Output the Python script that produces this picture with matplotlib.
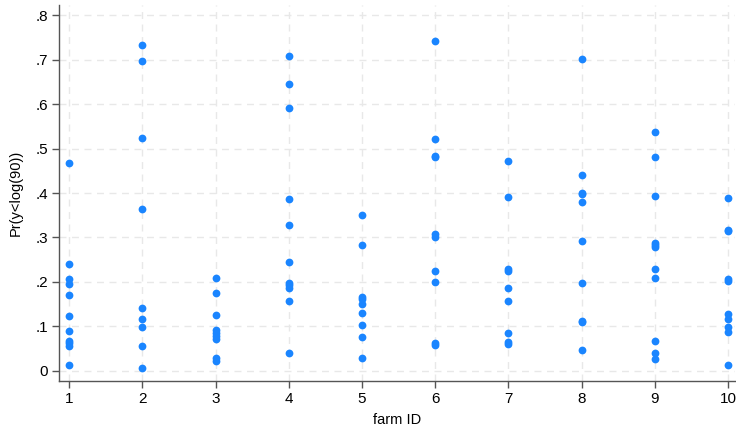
import numpy as np
import matplotlib
matplotlib.use("Agg")
import matplotlib.pyplot as plt

plt.rcParams["font.family"] = ["Liberation Sans", "DejaVu Sans"]

# predicted Pr(y < log(90)) per farm
farm_1 = [0.468, 0.240, 0.206, 0.195, 0.170, 0.123, 0.089, 0.068, 0.062, 0.056, 0.014]
farm_2 = [0.733, 0.697, 0.524, 0.363, 0.141, 0.116, 0.099, 0.056, 0.006]
farm_3 = [0.208, 0.175, 0.126, 0.092, 0.085, 0.078, 0.072, 0.028, 0.022]
farm_4 = [0.709, 0.645, 0.592, 0.386, 0.327, 0.244, 0.197, 0.192, 0.187, 0.158, 0.040]
farm_5 = [0.351, 0.282, 0.167, 0.161, 0.151, 0.129, 0.103, 0.077, 0.029]
farm_6 = [0.742, 0.521, 0.484, 0.480, 0.307, 0.302, 0.224, 0.200, 0.063, 0.059]
farm_7 = [0.471, 0.392, 0.230, 0.225, 0.187, 0.158, 0.084, 0.065, 0.060]
farm_8 = [0.702, 0.441, 0.401, 0.398, 0.380, 0.292, 0.198, 0.113, 0.109, 0.046]
farm_9 = [0.538, 0.482, 0.394, 0.287, 0.283, 0.278, 0.228, 0.208, 0.066, 0.040, 0.027]
farm_10 = [0.389, 0.317, 0.314, 0.207, 0.203, 0.128, 0.116, 0.099, 0.088, 0.013]

farms = [farm_1, farm_2, farm_3, farm_4, farm_5, farm_6, farm_7, farm_8, farm_9, farm_10]
farm_ids = list(range(1, 11))
yticks = [0, 0.1, 0.2, 0.3, 0.4, 0.5, 0.6, 0.7, 0.8]
ytick_labels = ["0", ".1", ".2", ".3", ".4", ".5", ".6", ".7", ".8"]

x = np.concatenate([[fid] * len(v) for fid, v in zip(farm_ids, farms)])
y = np.concatenate(farms)

fig = plt.figure(figsize=(7.36, 4.29), dpi=100)
ax = fig.add_axes([0.0802, 0.1119, 0.919, 0.8764])

ax.grid(True, color="#e8e8e8", linestyle=(0, (5, 4)), linewidth=1.0, zorder=0)
ax.set_axisbelow(True)
ax.plot(x, y, "o", color="#1a85ff", markersize=5.6, markeredgewidth=0, zorder=3)

ax.set_xlim(0.863, 10.1)
ax.set_ylim(-0.023, 0.823)
ax.set_xticks(farm_ids)
ax.set_yticks(yticks)
ax.set_yticklabels(ytick_labels)

for side in ("top", "right"):
    ax.spines[side].set_visible(False)
for side in ("left", "bottom"):
    ax.spines[side].set_color("#555555")
    ax.spines[side].set_linewidth(1.0)
ax.tick_params(axis="both", direction="out", length=5, width=1.0,
               color="#555555", labelsize=11, pad=3)

ax.set_xlabel("farm ID", fontsize=10.5, labelpad=5)
ax.set_ylabel("Pr(y<log(90))", fontsize=10.5, labelpad=9)

fig.savefig("out.png", dpi=100)
